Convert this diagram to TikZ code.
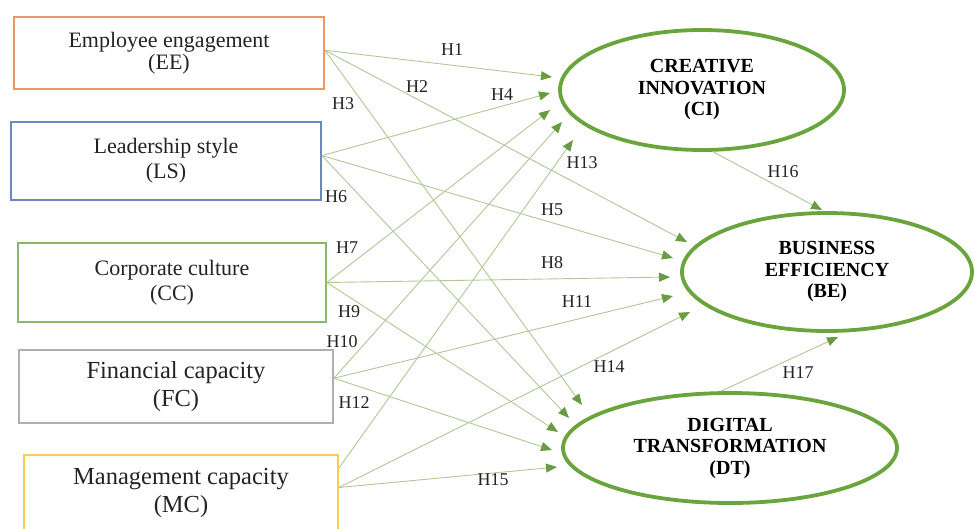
\documentclass[tikz,border=0pt]{standalone}
\usepackage{fontspec}
\setmainfont{Liberation Serif}
\usetikzlibrary{shapes.geometric,arrows.meta}

\definecolor{eeborder}{RGB}{236,150,100}
\definecolor{lsborder}{RGB}{110,135,190}
\definecolor{ccborder}{RGB}{135,185,105}
\definecolor{fcborder}{RGB}{175,175,175}
\definecolor{mcborder}{RGB}{250,205,80}
\definecolor{ovalgreen}{RGB}{105,165,60}
\definecolor{linkgreen}{RGB}{175,200,150}
\definecolor{tipgreen}{RGB}{105,155,65}
\definecolor{inktext}{RGB}{35,35,35}

\tikzset{
  factor/.style={draw, line width=1.8pt, rectangle, inner sep=0pt, align=center,
    text=inktext, font=\fontsize{22}{22}\selectfont},
  bigfactor/.style={factor, font=\fontsize{24.5}{28}\selectfont},
  outcome/.style={draw=ovalgreen, line width=3.8pt, ellipse, inner sep=0pt, align=center,
    text=black, font=\bfseries\fontsize{20}{21.5}\selectfont},
  link/.style={draw=linkgreen, line width=0.9pt,
    -{Triangle[length=11pt,width=9pt,color=tipgreen]}},
  hlabel/.style={text=inktext, inner sep=0pt, font=\fontsize{18}{18}\selectfont}
}

\begin{document}
\begin{tikzpicture}[x=1pt,y=-1pt]
\useasboundingbox (0,0) rectangle (974,528);

% explanatory factors
\node[factor, draw=eeborder, minimum width=310pt, minimum height=72pt] (ee) at (169,53)
  {Employee engagement\\(EE)};
\node[factor, draw=lsborder, minimum width=310pt, minimum height=78pt] (ls) at (166,161)
  {Leadership style\\[3pt](LS)};
\node[factor, draw=ccborder, minimum width=308pt, minimum height=79pt] (cc) at (172,282.5)
  {Corporate culture\\[3pt](CC)};
\node[bigfactor, draw=fcborder, minimum width=314pt, minimum height=73pt] (fc) at (176,386.5)
  {Financial capacity\\(FC)};
\node[bigfactor, draw=mcborder, minimum width=314pt, minimum height=76pt] (mc) at (181,493)
  {Management capacity\\(MC)};

% outcome constructs
\node[outcome, minimum width=284pt, minimum height=120pt] (ci) at (702,90)
  {CREATIVE\\INNOVATION\\(CI)};
\node[outcome, minimum width=290pt, minimum height=118pt] (be) at (827,272)
  {BUSINESS\\EFFICIENCY\\(BE)};
\node[outcome, minimum width=334pt, minimum height=110pt] (dt) at (730,448)
  {DIGITAL\\TRANSFORMATION\\(DT)};

% arrow ends in front of each construct
\coordinate (ci1) at (552,77);
\coordinate (ci2) at (550,93);
\coordinate (ci3) at (550,110);
\coordinate (ci4) at (562,122);
\coordinate (ci5) at (573,140);
\coordinate (be1) at (687,242);
\coordinate (be2) at (673,258);
\coordinate (be3) at (670,277);
\coordinate (be4) at (673,296);
\coordinate (be5) at (690,312);
\coordinate (dt1) at (582,405);
\coordinate (dt2) at (569,418);
\coordinate (dt3) at (558,432);
\coordinate (dt4) at (552,450);
\coordinate (dt5) at (557,467);
\coordinate (beTop) at (822,210);
\coordinate (beBot) at (838,337);

% hypothesised paths
\draw[link] (ee.1.5) -- (ci1);
\draw[link] (ee.1.5) -- (be1);
\draw[link] (ee.1.5) -- (dt1);
\draw[link] (ls.2.2) -- (ci2);
\draw[link] (ls.2.2) -- (be2);
\draw[link] (ls.2.2) -- (dt2);
\draw[link] (cc.east) -- (ci3);
\draw[link] (cc.east) -- (be3);
\draw[link] (cc.east) -- (dt3);
\draw[link] (fc.3.5) -- (ci4);
\draw[link] (fc.3.5) -- (be4);
\draw[link] (fc.3.5) -- (dt4);
\draw[link] (mc.9) -- (ci5);
\draw[link] (mc.2) -- (be5);
\draw[link] (mc.2) -- (dt5);
\draw[link] (ci.-80) -- (beTop);
\draw[link] (dt.99) -- (beBot);

% hypothesis labels
\node[hlabel] (h1) at (452,50) {H1};
\node[hlabel] (h2) at (417,87) {H2};
\node[hlabel] (h3) at (343,104) {H3};
\node[hlabel] (h4) at (502,95) {H4};
\node[hlabel] (h5) at (552,210) {H5};
\node[hlabel] (h6) at (336,197) {H6};
\node[hlabel] (h7) at (347,248) {H7};
\node[hlabel] (h8) at (552,263) {H8};
\node[hlabel] (h9) at (349,312) {H9};
\node[hlabel] (h10) at (342,342) {H10};
\node[hlabel] (h11) at (577,302) {H11};
\node[hlabel] (h12) at (354,403) {H12};
\node[hlabel] (h13) at (582,163) {H13};
\node[hlabel] (h14) at (609,367) {H14};
\node[hlabel] (h15) at (493,480) {H15};
\node[hlabel] (h16) at (783,172) {H16};
\node[hlabel] (h17) at (798,373) {H17};
\end{tikzpicture}
\end{document}
